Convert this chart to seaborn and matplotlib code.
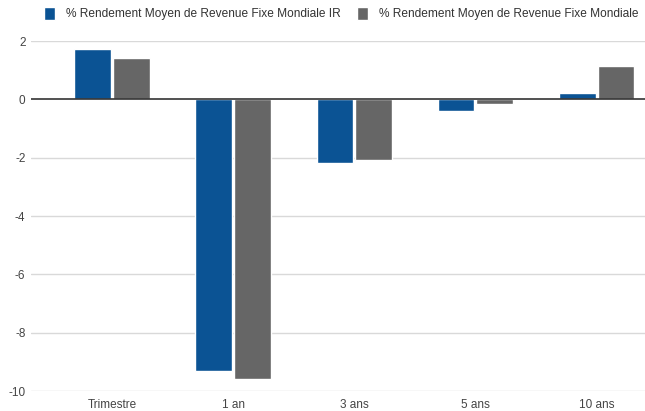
import matplotlib
matplotlib.use("Agg")
import matplotlib.pyplot as plt
import seaborn as sns
import pandas as pd

categories = ["Trimestre", "1 an", "3 ans", "5 ans", "10 ans"]
series_names = ["% Rendement Moyen de Revenue Fixe Mondiale IR",
                "% Rendement Moyen de Revenue Fixe Mondiale"]
values_ir = [1.74, -9.32, -2.17, -0.41, 0.22]
values_mondiale = [1.43, -9.59, -2.08, -0.17, 1.15]
yticks = [2, 0, -2, -4, -6, -8, -10]
colors = ["#0b5394", "#666666"]

df = pd.DataFrame({
    "cat": categories * 2,
    "val": values_ir + values_mondiale,
    "serie": [series_names[0]] * 5 + [series_names[1]] * 5,
})

sns.set_theme(style="white")
plt.rcParams["font.family"] = ["Liberation Sans", "DejaVu Sans"]

fig = plt.figure(figsize=(6.45, 4.11), dpi=100)
ax = fig.add_axes([31 / 645, 1 - 391 / 411, 1 - 31 / 645, 350 / 411])

sns.barplot(data=df, x="cat", y="val", hue="serie", palette=colors,
            order=categories, hue_order=series_names, width=0.64, gap=0.05,
            saturation=1, ax=ax, zorder=3, legend=True)

ax.set_xlim(-0.67, 4.40)
ax.set_ylim(-10, 2)
ax.set_yticks(yticks)
ax.set_yticklabels([str(t) for t in yticks])
ax.set_xlabel("")
ax.set_ylabel("")
for s in ax.spines.values():
    s.set_visible(False)
ax.grid(False)
for t in yticks:
    if t == 0:
        ax.axhline(t, color="#333333", lw=1.2, zorder=4)
    else:
        ax.axhline(t, color="#d9d9d9", lw=1, zorder=1)
ax.tick_params(axis="both", length=0, labelsize=8.5, colors="#444444")
ax.tick_params(axis="y", pad=4)
ax.tick_params(axis="x", pad=6)

leg = ax.legend(loc="lower center", bbox_to_anchor=(0.505, 1.045), ncol=2,
                frameon=False, fontsize=8.6, handlelength=0.92, handleheight=1.2,
                handletextpad=0.95, columnspacing=1.35, borderaxespad=0)
for txt in leg.get_texts():
    txt.set_color("#333333")

fig.savefig("out.png", dpi=100)
